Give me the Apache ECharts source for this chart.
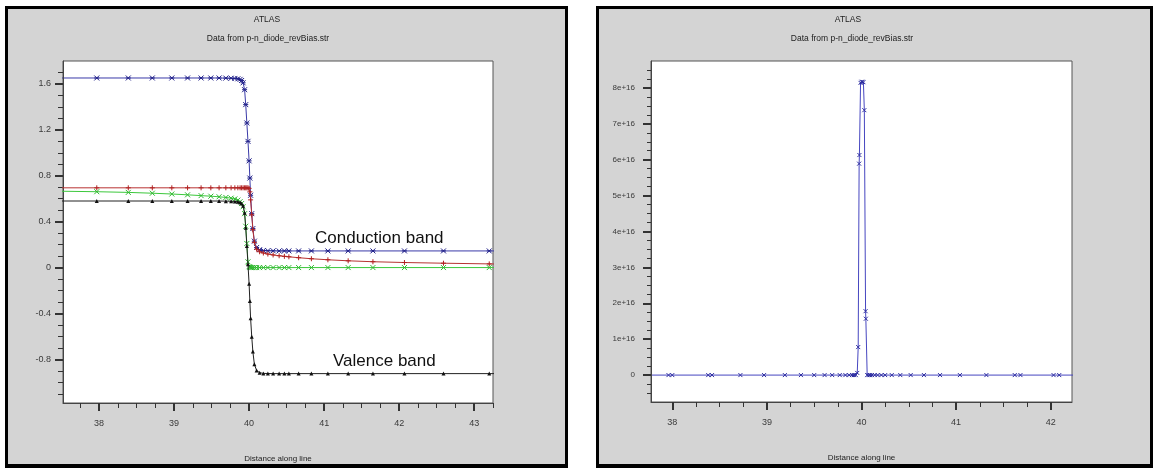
<!DOCTYPE html>
<html>
<head>
<meta charset="utf-8">
<title>ATLAS p-n diode band diagram</title>
<script src="https://cdn.jsdelivr.net/npm/echarts@6/dist/echarts.min.js"></script>
<style>
  html, body { margin: 0; padding: 0; background: #fff; }
  #chart { width: 1153px; height: 468px; }
</style>
</head>
<body>
<div id="chart"></div>
<script>
// ---- Left panel: band edges and quasi-Fermi levels along the cutline ----
const xDist = [37.3, 37.97, 38.39, 38.71, 38.97, 39.18, 39.36, 39.49, 39.60, 39.69,
  39.76, 39.81, 39.85, 39.88, 39.90, 39.92, 39.94, 39.955, 39.97, 39.985,
  40.0, 40.01, 40.02, 40.035, 40.05, 40.07, 40.10, 40.14, 40.19, 40.25,
  40.32, 40.40, 40.47, 40.53, 40.66, 40.83, 41.05, 41.32, 41.65, 42.07,
  42.59, 43.20, 43.4];

const conductionBand = [1.652, 1.652, 1.652, 1.652, 1.652, 1.652, 1.652, 1.652, 1.652, 1.651,
  1.650, 1.648, 1.645, 1.640, 1.630, 1.610, 1.550, 1.420, 1.260, 1.100,
  0.930, 0.780, 0.630, 0.470, 0.340, 0.230, 0.175, 0.156, 0.149, 0.147,
  0.146, 0.145, 0.145, 0.145, 0.145, 0.145, 0.145, 0.145, 0.145, 0.145,
  0.145, 0.145, 0.145];

const electronQF = [0.695, 0.695, 0.695, 0.695, 0.695, 0.695, 0.695, 0.695, 0.695, 0.695,
  0.695, 0.695, 0.695, 0.695, 0.695, 0.695, 0.695, 0.695, 0.695, 0.695,
  0.690, 0.660, 0.590, 0.460, 0.330, 0.220, 0.160, 0.138, 0.127, 0.118,
  0.110, 0.103, 0.098, 0.094, 0.086, 0.077, 0.068, 0.059, 0.051, 0.044,
  0.038, 0.032, 0.030];

const holeQF = [0.667, 0.661, 0.655, 0.648, 0.641, 0.634, 0.627, 0.622, 0.617, 0.611,
  0.605, 0.598, 0.588, 0.574, 0.558, 0.530, 0.470, 0.360, 0.210, 0.050,
  0.008, 0.003, 0.0, 0.0, 0.0, 0.0, 0.0, 0.0, 0.0, 0.0,
  0.0, 0.0, 0.0, 0.0, 0.0, 0.0, 0.0, 0.0, 0.0, 0.0,
  0.0, 0.0, 0.0];

const valenceBand = [0.580, 0.580, 0.580, 0.580, 0.580, 0.580, 0.580, 0.580, 0.580, 0.579,
  0.578, 0.576, 0.573, 0.568, 0.558, 0.538, 0.478, 0.348, 0.188, 0.028,
  -0.142, -0.292, -0.442, -0.602, -0.732, -0.842, -0.897, -0.916, -0.922, -0.923,
  -0.924, -0.924, -0.924, -0.924, -0.924, -0.924, -0.924, -0.924, -0.924, -0.924,
  -0.924, -0.924, -0.924];

const xTicksLeft = [38, 39, 40, 41, 42, 43];
const yTicksLeft = [-0.8, -0.4, 0, 0.4, 0.8, 1.2, 1.6];

// ---- Right panel: peaked quantity across the junction ----
const xDistR = [37.6, 37.96, 38.0, 38.38, 38.42, 38.72, 38.97, 39.19, 39.36, 39.50,
  39.61, 39.69, 39.77, 39.83, 39.87, 39.90, 39.92, 39.94, 39.955, 39.965,
  39.975, 39.978, 39.99, 40.0, 40.01, 40.02, 40.03, 40.043, 40.046, 40.06,
  40.075, 40.09, 40.11, 40.14, 40.17, 40.21, 40.25, 40.32, 40.41, 40.52,
  40.66, 40.83, 41.04, 41.32, 41.62, 41.68, 42.03, 42.09, 42.4];

const peakValues = [0, 0, 0, 0, 0, 0, 0, 0, 0, 0,
  0, 0, 0, 0, 0, 0, 0, 0, 0.06e16, 0.78e16,
  5.89e16, 6.13e16, 8.14e16, 8.17e16, 8.17e16, 8.16e16, 7.38e16, 1.78e16, 1.57e16, 0,
  0, 0, 0, 0, 0, 0, 0, 0, 0, 0,
  0, 0, 0, 0, 0, 0, 0, 0, 0];

const xTicksRight = [38, 39, 40, 41, 42];
const yTicksRight = [0, 1e16, 2e16, 3e16, 4e16, 5e16, 6e16, 7e16, 8e16];

// minor tick positions between bounds, skipping the labelled ones
function minorTicks(from, to, step, majors) {
  const out = [];
  for (let v = from; v <= to + step / 1000; v += step) {
    const r = Math.round(v / step) * step;
    if (!majors.some(m => Math.abs(m - r) < step / 100)) out.push(r);
  }
  return out;
}

const FONT = 'Liberation Sans, Arial, sans-serif';
const TICK = '#333';
const LABEL = '#3a3a3a';

function pairs(xs, ys) { return xs.map((x, i) => [x, ys[i]]); }

// marker glyphs
const SYM_STAR = 'path://M0,0L10,10M10,0L0,10M0,5L10,5';
const SYM_PLUS = 'path://M5,0L5,10M0,5L10,5';
const SYM_X = 'path://M0,0L10,10M10,0L0,10';

function majorAxis(kind, gridIndex, min, max, ticks, extra) {
  const base = {
    type: 'value', gridIndex, min, max,
    axisLine: { show: true, onZero: false, lineStyle: { color: '#444', width: 1 } },
    axisTick: { show: true, inside: false, customValues: ticks, length: 8,
      lineStyle: { color: TICK, width: 2 } },
    axisLabel: { show: true, customValues: ticks, color: LABEL, fontFamily: FONT, fontSize: 9 },
    splitLine: { show: false },
    z: 3
  };
  return Object.assign(base, extra || {});
}
function minorAxis(gridIndex, min, max, ticks, len) {
  return {
    type: 'value', gridIndex, min, max,
    axisLine: { show: false, onZero: false },
    axisTick: { show: true, inside: false, customValues: ticks, length: len,
      lineStyle: { color: TICK, width: 1 } },
    axisLabel: { show: false },
    splitLine: { show: false },
    z: 3
  };
}

const LX = [37.52, 43.25], LY = [-1.18, 1.8];
const RX = [37.775, 42.225], RY = [-0.75e16, 8.75e16];

const axisName = {
  name: 'Distance along line', nameLocation: 'middle', nameGap: 52,
  nameTextStyle: { color: '#222', fontFamily: FONT, fontSize: 8 }
};

const chart = echarts.init(document.getElementById('chart'), null, { renderer: 'canvas' });

chart.setOption({
  animation: false,
  backgroundColor: '#ffffff',
  graphic: [
    // left frame
    { type: 'rect', z: -10, shape: { x: 5, y: 6, width: 563, height: 462 }, style: { fill: '#000' } },
    { type: 'rect', z: -9, shape: { x: 8, y: 9, width: 557, height: 455 }, style: { fill: '#d4d4d4' } },
    // right frame
    { type: 'rect', z: -10, shape: { x: 596, y: 6, width: 557, height: 462 }, style: { fill: '#000' } },
    { type: 'rect', z: -9, shape: { x: 599, y: 9, width: 551, height: 455 }, style: { fill: '#d4d4d4' } },
    // headings
    { type: 'text', x: 267, y: 20, style: { text: 'ATLAS', fill: '#222', font: '8.5px ' + FONT, align: 'center', verticalAlign: 'middle' } },
    { type: 'text', x: 268, y: 39, style: { text: 'Data from p-n_diode_revBias.str', fill: '#222', font: '8.5px ' + FONT, align: 'center', verticalAlign: 'middle' } },
    { type: 'text', x: 848, y: 20, style: { text: 'ATLAS', fill: '#222', font: '8.5px ' + FONT, align: 'center', verticalAlign: 'middle' } },
    { type: 'text', x: 852, y: 39, style: { text: 'Data from p-n_diode_revBias.str', fill: '#222', font: '8.5px ' + FONT, align: 'center', verticalAlign: 'middle' } },
    // band annotations
    { type: 'text', z: 10, x: 315, y: 238, style: { text: 'Conduction band', fill: '#111', font: '17px ' + FONT, align: 'left', verticalAlign: 'middle' } },
    { type: 'text', z: 10, x: 333, y: 361, style: { text: 'Valence band', fill: '#111', font: '17px ' + FONT, align: 'left', verticalAlign: 'middle' } }
  ],
  grid: [
    { left: 63, top: 61, width: 430, height: 342, show: true, backgroundColor: '#fff', borderColor: '#555', borderWidth: 1 },
    { left: 651, top: 61, width: 421, height: 341, show: true, backgroundColor: '#fff', borderColor: '#555', borderWidth: 1 }
  ],
  xAxis: [
    majorAxis('x', 0, LX[0], LX[1], xTicksLeft, Object.assign({ position: 'bottom' }, axisName, {
      axisLabel: { show: true, customValues: xTicksLeft, color: LABEL, fontFamily: FONT, fontSize: 9, margin: 16 } })),
    Object.assign(minorAxis(0, LX[0], LX[1], minorTicks(37.75, 43.25, 0.25, xTicksLeft), 5), { position: 'bottom' }),
    majorAxis('x', 1, RX[0], RX[1], xTicksRight, Object.assign({ position: 'bottom' }, axisName, {
      axisLabel: { show: true, customValues: xTicksRight, color: LABEL, fontFamily: FONT, fontSize: 9, margin: 16 } })),
    Object.assign(minorAxis(1, RX[0], RX[1], minorTicks(38, 42, 0.25, xTicksRight), 5), { position: 'bottom' })
  ],
  yAxis: [
    majorAxis('y', 0, LY[0], LY[1], yTicksLeft, { position: 'left',
      axisLabel: { show: true, customValues: yTicksLeft, color: LABEL, fontFamily: FONT, fontSize: 9, margin: 12 } }),
    Object.assign(minorAxis(0, LY[0], LY[1], minorTicks(-1.1, 1.7, 0.1, yTicksLeft), 5), { position: 'left' }),
    majorAxis('y', 1, RY[0], RY[1], yTicksRight, { position: 'left',
      axisLabel: { show: true, customValues: yTicksRight, color: LABEL, fontFamily: FONT, fontSize: 8, margin: 16,
        formatter: v => v === 0 ? '0' : Math.round(v / 1e16) + 'e+16' } }),
    Object.assign(minorAxis(1, RY[0], RY[1], minorTicks(-0.5e16, 8.5e16, 0.25e16, yTicksRight), 4), { position: 'left' })
  ],
  series: [
    { name: 'Ec', type: 'line', xAxisIndex: 0, yAxisIndex: 0, data: pairs(xDist, conductionBand),
      symbol: SYM_STAR, symbolSize: 5, lineStyle: { color: '#3a3aa8', width: 1 },
      itemStyle: { color: '#22228a', borderColor: '#22228a', borderWidth: 1 }, z: 2 },
    { name: 'Efn', type: 'line', xAxisIndex: 0, yAxisIndex: 0, data: pairs(xDist, electronQF),
      symbol: SYM_PLUS, symbolSize: 5, lineStyle: { color: '#b83232', width: 1 },
      itemStyle: { color: '#b02020', borderColor: '#b02020', borderWidth: 1 }, z: 3 },
    { name: 'Efp', type: 'line', xAxisIndex: 0, yAxisIndex: 0, data: pairs(xDist, holeQF),
      symbol: SYM_X, symbolSize: 5, lineStyle: { color: '#3cc83c', width: 1 },
      itemStyle: { color: '#2fb82f', borderColor: '#2fb82f', borderWidth: 1 }, z: 4 },
    { name: 'Ev', type: 'line', xAxisIndex: 0, yAxisIndex: 0, data: pairs(xDist, valenceBand),
      symbol: 'triangle', symbolSize: 4, lineStyle: { color: '#222', width: 1 },
      itemStyle: { color: '#111', borderColor: '#111', borderWidth: 0 }, z: 5 },
    { name: 'peak', type: 'line', xAxisIndex: 2, yAxisIndex: 2, data: pairs(xDistR, peakValues),
      symbol: SYM_X, symbolSize: 4, lineStyle: { color: '#4646c0', width: 1 },
      itemStyle: { color: '#2c2ca0', borderColor: '#2c2ca0', borderWidth: 1 }, z: 2 }
  ]
});
</script>
</body>
</html>
